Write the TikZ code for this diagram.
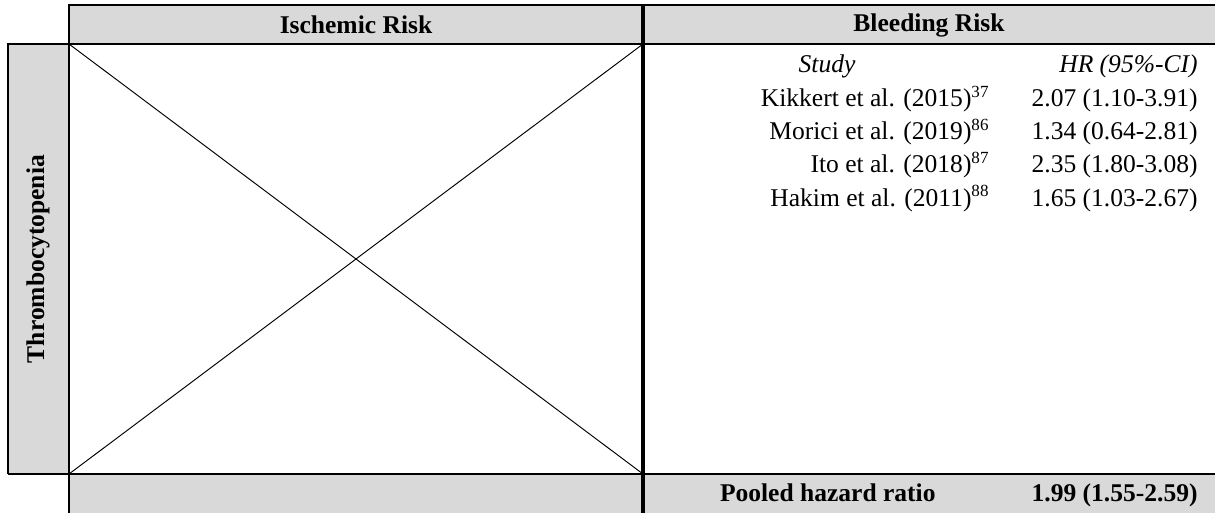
\documentclass[tikz,border=0pt]{standalone}
\usepackage{fontspec}
\setmainfont{Liberation Serif}
\usepackage{tikz}
\usetikzlibrary{positioning}
\definecolor{tgray}{HTML}{D9D9D9}

\begin{document}
\begin{tikzpicture}[x=0.47pt, y=-0.47pt,
    rule/.style={line width=0.95pt},
    midrule/.style={line width=1.9pt},
    cross/.style={line width=0.45pt},
    hdr/.style={font=\fontsize{12}{14}\selectfont\bfseries, inner sep=0pt},
    txt/.style={font=\fontsize{12}{14}\selectfont, inner sep=0pt}]

  \useasboundingbox (0,0) rectangle (1215,513);

  %% shaded header row, side strip and footer row
  \fill[tgray] (69,5) rectangle (1215,44);
  \fill[tgray] (8,44) rectangle (69,474);
  \fill[tgray] (69,474) rectangle (1215,513);

  %% empty ischemic cell, crossed out
  \coordinate (nw) at (69,44);
  \coordinate (ne) at (643,44);
  \coordinate (sw) at (69,474);
  \coordinate (se) at (643,474);
  \draw[cross] (nw) -- (se);
  \draw[cross] (sw) -- (ne);

  %% rules
  \draw[rule] (69,513) -- (69,5) -- (1215,5);
  \draw[rule] (8,474) -- (8,44) -- (1215,44);
  \draw[rule] (8,474) -- (1215,474);
  \draw[midrule] (643,5) -- (643,513);

  %% headings
  \node[hdr] (isch) at (356,25) {Ischemic Risk};
  \node[hdr] (bleed) at (929,25) {Bleeding Risk};
  \node[hdr, rotate=90] (thromb) at (38,259) {Thrombocytopenia};

  %% bleeding risk studies
  \node[txt, anchor=base, font=\fontsize{12}{14}\selectfont\itshape] (study) at (827,73) {Study};
  \node[txt, anchor=base east, font=\fontsize{12}{14}\selectfont\itshape] (hrhead) at (1198,73) {HR (95\%-CI)};
  \foreach \name/\refno/\hr [count=\i] in {
      Kikkert et al. (2015)/37/2.07 (1.10-3.91),
      Morici et al. (2019)/86/1.34 (0.64-2.81),
      Ito et al. (2018)/87/2.35 (1.80-3.08),
      Hakim et al. (2011)/88/1.65 (1.03-2.67)} {
    \node[txt, anchor=base east] (study\i) at (990,{73+33.3*\i}) {\name\textsuperscript{\refno}};
    \node[txt, anchor=base east] (hr\i) at (1198,{73+33.3*\i}) {\hr};
  }

  %% pooled estimate
  \node[hdr, anchor=base east] (pooled) at (936,501) {Pooled hazard ratio};
  \node[hdr, anchor=base east] (pooledhr) at (1198,501) {1.99 (1.55-2.59)};

\end{tikzpicture}
\end{document}
